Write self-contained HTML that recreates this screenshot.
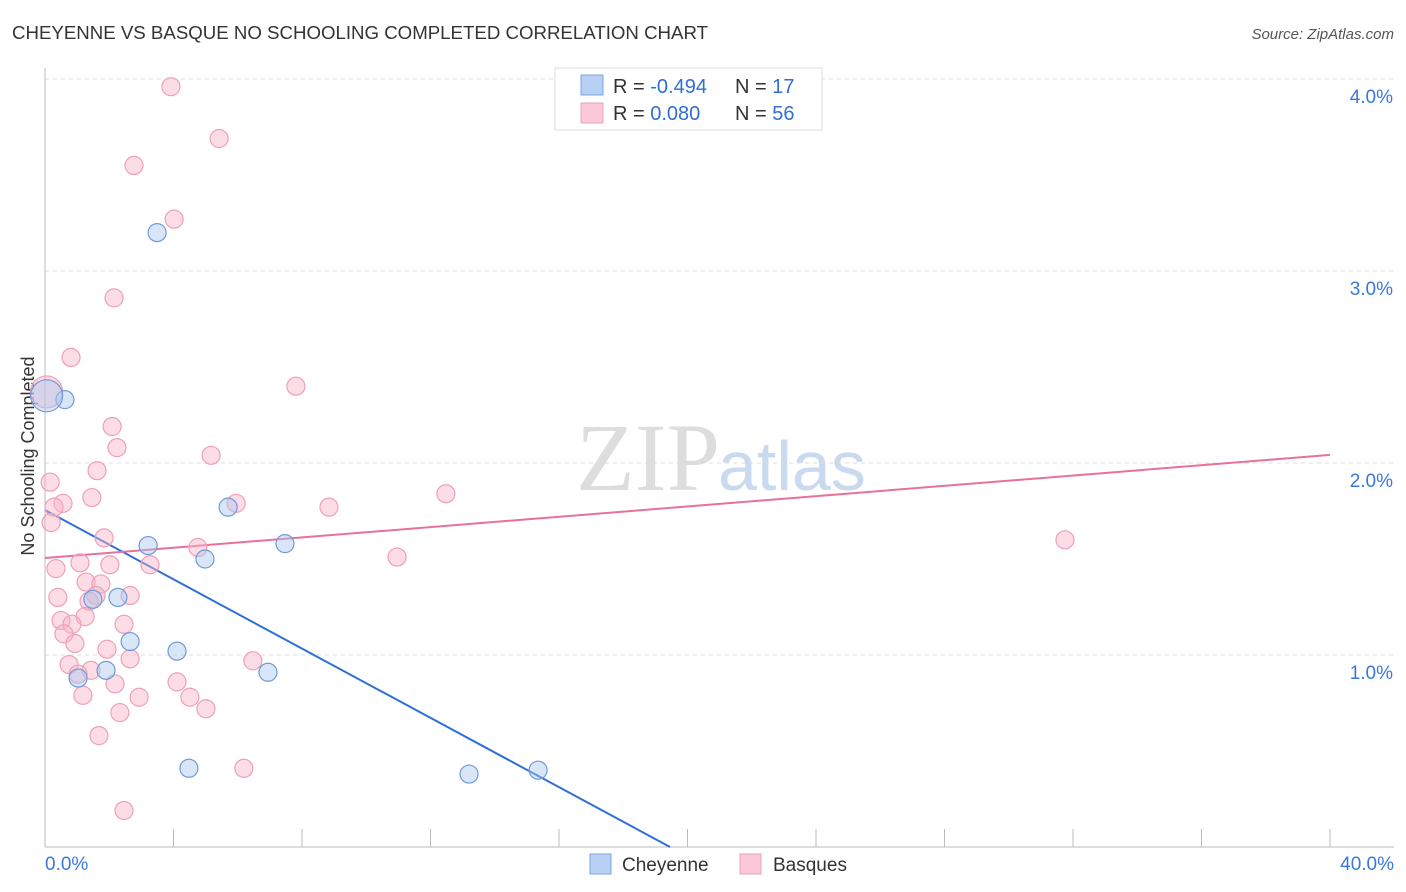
<!DOCTYPE html>
<html><head><meta charset="utf-8"><style>
body{margin:0;background:#fff;font-family:"Liberation Sans",sans-serif;}
#c{position:absolute;left:0;top:0;}
</style></head><body>
<svg id="c" width="1406" height="892">
<text x="12" y="39" font-size="18" fill="#333" textLength="696" lengthAdjust="spacingAndGlyphs">CHEYENNE VS BASQUE NO SCHOOLING COMPLETED CORRELATION CHART</text>
<text x="1394" y="39" font-size="15" fill="#555" font-style="italic" text-anchor="end">Source: ZipAtlas.com</text>
<text x="34" y="456" font-size="18" fill="#333" transform="rotate(-90 34 456)" text-anchor="middle">No Schooling Completed</text>
<text x="720" y="490" font-size="96" fill="#ddd" font-family="Liberation Serif,serif" text-anchor="end">ZIP</text>
<text x="718" y="490" font-size="70" fill="#c9daf0">atlas</text>
<g id="grid"></g><g id="axes"></g><g id="lines"></g><g id="pts"></g>
<g>
<rect x="555" y="68" width="267" height="62" fill="#fff" stroke="#ddd"/>
<rect x="581" y="75" width="22" height="20" fill="#b7d0f3" stroke="#7aa6e0"/>
<rect x="581" y="103" width="22" height="20" fill="#fbc8d7" stroke="#eda0b8"/>
<text x="613" y="93" font-size="20" fill="#333">R = <tspan fill="#2f6fd6">-0.494</tspan></text>
<text x="735" y="93" font-size="20" fill="#333">N = <tspan fill="#2f6fd6"> 17</tspan></text>
<text x="613" y="120" font-size="20" fill="#333">R = <tspan fill="#2f6fd6"> 0.080</tspan></text>
<text x="735" y="120" font-size="20" fill="#333">N = <tspan fill="#2f6fd6">56</tspan></text>
</g>
<g>
<rect x="590" y="854" width="21" height="20" fill="#b7d0f3" stroke="#7aa6e0"/>
<text x="622" y="871" font-size="19" fill="#333">Cheyenne</text>
<rect x="740" y="854" width="21" height="20" fill="#fbc8d7" stroke="#eda0b8"/>
<text x="773" y="871" font-size="19" fill="#333">Basques</text>
</g>
</svg>
<script>
const yTicks=[1,2,3,4];
const xTickLabels=["0.0%","40.0%"];
const blueX=[0.62,3.49,5.70,3.21,4.98,7.47,2.27,1.49,2.65,4.11,1.90,1.03,6.94,4.48,13.20,15.35,0.05];
const blueY=[2.33,3.20,1.77,1.57,1.50,1.58,1.30,1.29,1.07,1.02,0.92,0.88,0.91,0.41,0.38,0.40,2.35];
const pinkX=[3.92,5.42,2.77,4.02,2.15,0.81,0.05,7.81,2.09,2.24,5.17,1.62,0.16,12.48,1.46,0.56,5.95,0.28,8.84,0.19,1.84,4.76,31.75,10.96,3.27,1.09,2.02,0.34,1.28,1.74,0.40,1.59,2.65,1.37,1.25,0.50,0.84,2.46,0.59,0.93,1.93,2.65,0.75,6.47,1.43,1.03,2.18,4.11,1.18,2.93,4.51,5.01,2.33,1.68,6.19,2.46];
const pinkY=[3.96,3.69,3.55,3.27,2.86,2.55,2.37,2.40,2.19,2.08,2.04,1.96,1.90,1.84,1.82,1.79,1.79,1.77,1.77,1.69,1.61,1.56,1.60,1.51,1.47,1.48,1.47,1.45,1.38,1.37,1.30,1.31,1.31,1.28,1.20,1.18,1.16,1.16,1.11,1.06,1.03,0.98,0.95,0.97,0.92,0.90,0.85,0.86,0.79,0.78,0.78,0.72,0.70,0.58,0.41,0.19];
const blueTrend=[1.755,-0.0902];
const pinkTrend=[1.505,0.01343];
const NS="http://www.w3.org/2000/svg";
const sx=v=>45+v/40*1285, sy=v=>847-v*192;
function mk(p,t,a){const e=document.createElementNS(NS,t);for(const k in a)e.setAttribute(k,a[k]);document.getElementById(p).appendChild(e);return e;}
yTicks.forEach(t=>{
 const l=mk('grid','line',{x1:45,x2:1394,y1:sy(t),y2:sy(t),stroke:'#ddd','stroke-dasharray':'4,4'});
 
 
 const tx=mk('grid','text',{x:1393,y:sy(t)+24,'font-size':19,fill:'#3b78d8','text-anchor':'end'});
 tx.textContent=t.toFixed(1)+'%';
 
 
});
const ax=mk('axes','line',{x1:45,x2:45,y1:68,y2:847,stroke:'#bbb'});


const bx=mk('axes','line',{x1:45,x2:1394,y1:847,y2:847,stroke:'#bbb'});


for(let i=0;i<=10;i++){const t=mk('axes','line',{x1:sx(i*4),x2:sx(i*4),y1:829,y2:847,stroke:'#bbb'});
 
 }
[[0,45,'start'],[40,1394,'end']].forEach((d,i)=>{const t=mk('axes','text',{x:d[1],y:870,'font-size':19,fill:'#3b78d8','text-anchor':d[2]});t.textContent=xTickLabels[i];
 
 });
function pts(X,Y,f,s,name){X.forEach((x,i)=>{const big=(x<0.1);const c=mk('pts','circle',{cx:sx(x),cy:sy(Y[i]),r:big?16:9,fill:f,'fill-opacity':0.45,stroke:s,'stroke-width':1.2});
 
 });}
pts(pinkX,pinkY,'#f8b4c8','#eda0b8','basques-point');
pts(blueX,blueY,'#a9c7f0','#6f9bd9','cheyenne-point');
const bxEnd=-blueTrend[0]/blueTrend[1];
const bl=mk('lines','line',{x1:sx(0),y1:sy(blueTrend[0]),x2:sx(bxEnd),y2:sy(0),stroke:'#2f6fd6','stroke-width':2});


const pl=mk('lines','line',{x1:sx(0),y1:sy(pinkTrend[0]),x2:sx(40),y2:sy(pinkTrend[0]+40*pinkTrend[1]),stroke:'#e8719a','stroke-width':2});


</script>
</body></html>
